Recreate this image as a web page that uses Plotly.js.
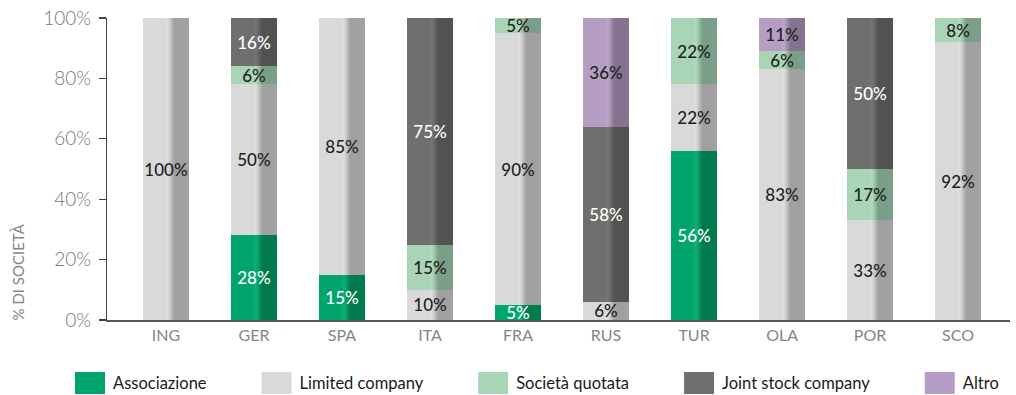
<!DOCTYPE html>
<html>
<head>
<meta charset="utf-8">
<script src="https://cdn.plot.ly/plotly-3.0.1.min.js"></script>
<style>
html,body{margin:0;padding:0;background:#fff;}
#chart{width:1016px;height:395px;}
</style>
</head>
<body>
<div id="chart"></div>
<script>
const categories = ['ING','GER','SPA','ITA','FRA','RUS','TUR','OLA','POR','SCO'];
const associazione = [null,28,15,null,5,null,56,null,null,null];
const limitedCompany = [100,50,85,10,90,6,22,83,33,92];
const societaQuotata = [null,6,null,15,5,null,22,6,17,8];
const jointStock = [null,16,null,75,null,58,null,null,50,null];
const altro = [null,null,null,null,null,36,null,11,null,null];
const yTickValues = [0,20,40,60,80,100];
const yTickLabels = ['0%','20%','40%','60%','80%','100%'];

const seriesNames = ['Associazione','Limited company','Società quotata','Joint stock company','Altro'];
const seriesValues = [associazione, limitedCompany, societaQuotata, jointStock, altro];
const baseColors = ['#00a56c','#d9d9d9','#a8d5b6','#6f6f6d','#b59dc4'];
const darkColors = ['#007a4e','#a0a0a0','#7a9e87','#525250','#85738f'];
const lightColors = ['#10b076','#dedede','#b0dcbd','#767674','#bca5ca'];
const textColors = ['#ffffff','#222222','#222222','#ffffff','#222222'];

const FONT = 'Lato, "Open Sans", sans-serif';

const data = seriesNames.map((name,i)=>({
  type:'bar',
  name:name,
  x:categories,
  y:seriesValues[i],
  width:0.53,
  marker:{color:baseColors[i], line:{width:0}},
  text:seriesValues[i].map(v=> v==null ? '' : v+'%'),
  texttemplate:'%{text}',
  textposition:'inside',
  insidetextanchor:'middle',
  textangle:0,
  constraintext:'none',
  cliponaxis:false,
  textfont:{family:FONT, size:17, color:textColors[i], weight:500},
  hoverinfo:'skip'
}));

const layout = {
  width:1016, height:395,
  margin:{l:107, r:6, t:18, b:75},
  barmode:'stack',
  paper_bgcolor:'#fff', plot_bgcolor:'#fff',
  font:{family:FONT},
  showlegend:true,
  legend:{orientation:'h', x:0, xref:'container', y:0, yref:'container', yanchor:'bottom',
          bgcolor:'rgba(0,0,0,0)', font:{family:FONT, size:16.5, color:'#1a1a1a'}, traceorder:'normal'},
  xaxis:{
    type:'category', range:[-0.67, 9.59],
    showline:true, linecolor:'#555', linewidth:1.5,
    ticks:'', showgrid:false, zeroline:false,
    tickfont:{family:FONT, size:16, color:'#858585'},
    fixedrange:true
  },
  yaxis:{
    range:[0,100], tickmode:'array', tickvals:yTickValues, ticktext:yTickLabels,
    showline:true, linecolor:'#444', linewidth:1.2,
    ticks:'outside', ticklen:7, tickcolor:'#444', tickwidth:1.2,
    showgrid:false, zeroline:false,
    tickfont:{family:FONT, size:19, color:'#787878', weight:300},
    ticklabelstandoff:4,
    fixedrange:true
  },
  annotations:[{
    text:'% DI SOCIETÀ', textangle:-90,
    xref:'paper', yref:'paper', x:-0.0986, y:0, xanchor:'center', yanchor:'bottom',
    yshift:-2, showarrow:false,
    font:{family:FONT, size:15, color:'#858585'}
  }]
};

function decorate(gd){
  const NS='http://www.w3.org/2000/svg';
  const svg = gd.querySelector('.main-svg');
  let defs = svg.querySelector('defs');
  if(!defs){ defs=document.createElementNS(NS,'defs'); svg.insertBefore(defs, svg.firstChild); }
  baseColors.forEach((c,i)=>{
    const lg=document.createElementNS(NS,'linearGradient');
    lg.setAttribute('id','bargrad'+i);
    lg.setAttribute('x1','0'); lg.setAttribute('y1','0');
    lg.setAttribute('x2','1'); lg.setAttribute('y2','0');
    const stops=[[0,c],[0.48,c],[0.54,lightColors[i]],[0.68,darkColors[i]],[1,darkColors[i]]];
    stops.forEach(s=>{
      const st=document.createElementNS(NS,'stop');
      st.setAttribute('offset',s[0]); st.setAttribute('stop-color',s[1]);
      lg.appendChild(st);
    });
    defs.appendChild(lg);
  });
  gd.querySelectorAll('.barlayer .trace').forEach((tr,i)=>{
    tr.querySelectorAll('.point path').forEach(p=>{ p.style.fill='url(#bargrad'+i+')'; });
  });
  // legend
  const sb = gd.querySelector('.legend .scrollbox');
  if(sb) sb.removeAttribute('clip-path');
  const items = Array.from(gd.querySelectorAll('.legend .traces'));
  let cursor=0;
  items.forEach(it=>{
    it.querySelectorAll('.legendpoints path').forEach(p=>{
      p.setAttribute('d','M15,11H-15V-11H15Z');
      p.style.strokeWidth='0';
    });
    const t = it.querySelector('.legendtext');
    t.setAttribute('x','43');
    const w = t.getComputedTextLength();
    it.setAttribute('transform','translate('+cursor+',0)');
    cursor += w + 93;
  });
  if(items.length){
    const r = items[0].querySelector('.legendpoints path').getBoundingClientRect();
    const dx = 75 - r.left;
    const dy = 383 - (r.top + r.height/2);
    items.forEach(it=>{
      const m = /translate\(([-\d.]+),([-\d.]+)\)/.exec(it.getAttribute('transform'));
      it.setAttribute('transform','translate('+(parseFloat(m[1])+dx)+','+(parseFloat(m[2])+dy)+')');
    });
  }
}

Plotly.newPlot('chart', data, layout, {staticPlot:true, displayModeBar:false}).then(decorate);
</script>
</body>
</html>
